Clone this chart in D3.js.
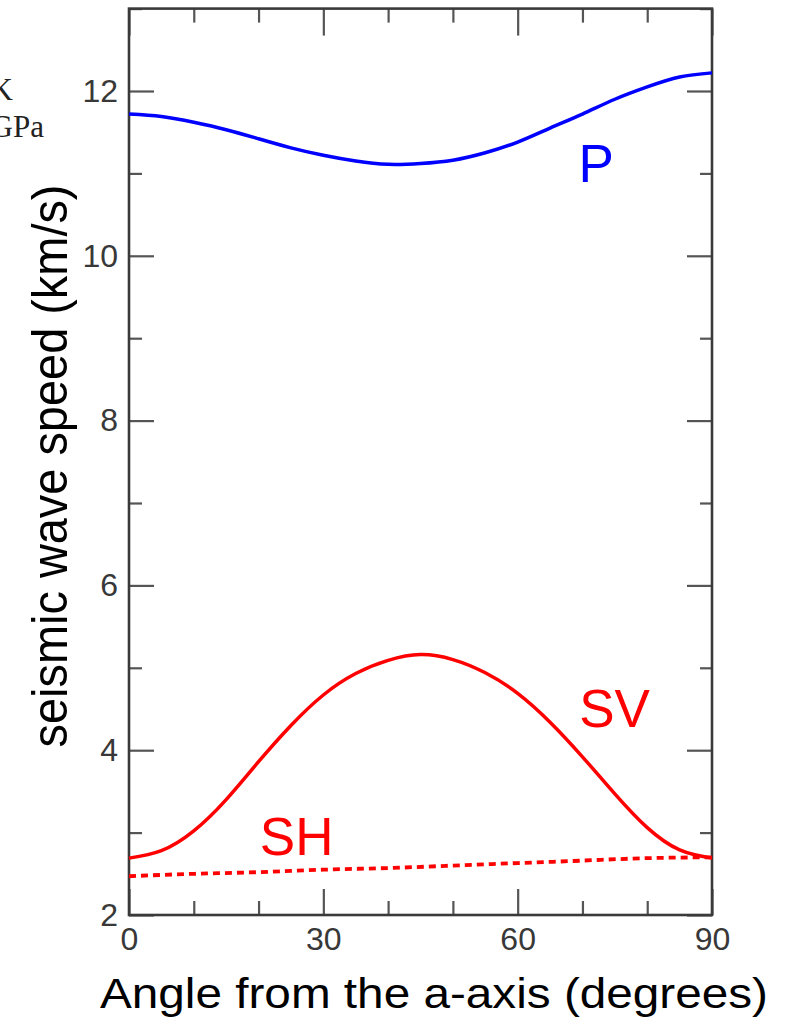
<!DOCTYPE html>
<html>
<head>
<meta charset="utf-8">
<script src="https://cdn.jsdelivr.net/npm/d3@7"></script>
<style>
  html, body { margin: 0; padding: 0; background: #fff; }
  svg { display: block; }
</style>
</head>
<body>
<script>
// ---- data ----
const angles   = [0, 5, 10, 15, 20, 25, 30, 35, 40, 45, 50, 55, 60, 65, 70, 75, 80, 85, 90];
const pSpeed   = [11.72, 11.69, 11.62, 11.53, 11.42, 11.31, 11.22, 11.15, 11.11, 11.12, 11.16, 11.25, 11.38, 11.55, 11.72, 11.90, 12.05, 12.17, 12.22];
const svSpeed  = [2.69, 2.78, 3.02, 3.40, 3.86, 4.30, 4.67, 4.93, 5.09, 5.16, 5.10, 4.94, 4.69, 4.34, 3.92, 3.47, 3.06, 2.79, 2.69];
const shAngles = [0, 10, 20, 30, 40, 50, 60, 70, 80, 90];
const shSpeed  = [2.47, 2.50, 2.52, 2.55, 2.57, 2.60, 2.63, 2.66, 2.69, 2.70];
const xMajorTicks = [0, 30, 60, 90];
const xMinorTicks = [10, 20, 40, 50, 70, 80];
const yMajorTicks = [2, 4, 6, 8, 10, 12];
const yMinorTicks = [3, 5, 7, 9, 11, 13];
const curveLabels = [
  { text: "P",  x: 69.4, y: 10.89, color: "#0000ff" },
  { text: "SV", x: 69.5, y: 4.28,  color: "#ff0000" },
  { text: "SH", x: 20.2, y: 2.73,  color: "#ff0000" }
];

// ---- layout ----
const W = 787, H = 1021;
const svg = d3.select("body").append("svg").attr("width", W).attr("height", H);

const x = d3.scaleLinear().domain([0, 90]).range([129, 712]);
const y = d3.scaleLinear().domain([2, 13]).range([915, 8.6]);

const frameColor = "#3a3a3a";
const tickColor = "#555";

// side notes (cropped at left edge)
svg.append("text").attr("x", 13).attr("y", 100).attr("text-anchor", "end")
  .attr("font-family", "Liberation Serif").attr("font-size", 31).attr("fill", "#222").text("K");
svg.append("text").attr("x", 44).attr("y", 137).attr("text-anchor", "end")
  .attr("font-family", "Liberation Serif").attr("font-size", 31).attr("fill", "#222").text("GPa");

// ---- axes ----
function styleAxis(g, withText) {
  g.select(".domain").remove();
  g.selectAll(".tick line").attr("stroke", tickColor).attr("stroke-width", 2.2);
  if (withText) {
    g.selectAll(".tick text").attr("fill", "#383838")
      .attr("font-family", "Liberation Sans, Arial, sans-serif").attr("font-size", 32);
  } else {
    g.selectAll(".tick text").remove();
  }
}

// bottom
svg.append("g").attr("transform", `translate(0,${y(2)})`)
  .call(d3.axisBottom(x).tickValues(xMajorTicks).tickSizeInner(-26).tickSizeOuter(0).tickPadding(12).tickFormat(d3.format("d")))
  .call(g => styleAxis(g, true));
svg.append("g").attr("transform", `translate(0,${y(2)})`)
  .call(d3.axisBottom(x).tickValues(xMinorTicks).tickSizeInner(-14).tickSizeOuter(0))
  .call(g => styleAxis(g, false));
// top
svg.append("g").attr("transform", `translate(0,${y(13)})`)
  .call(d3.axisTop(x).tickValues(xMajorTicks).tickSizeInner(-27).tickSizeOuter(0))
  .call(g => styleAxis(g, false));
svg.append("g").attr("transform", `translate(0,${y(13)})`)
  .call(d3.axisTop(x).tickValues(xMinorTicks).tickSizeInner(-14).tickSizeOuter(0))
  .call(g => styleAxis(g, false));
// left
svg.append("g").attr("transform", `translate(${x(0)},0)`)
  .call(d3.axisLeft(y).tickValues(yMajorTicks).tickSizeInner(-25).tickSizeOuter(0).tickPadding(11).tickFormat(d3.format("d")))
  .call(g => styleAxis(g, true));
svg.append("g").attr("transform", `translate(${x(0)},0)`)
  .call(d3.axisLeft(y).tickValues(yMinorTicks).tickSizeInner(-13).tickSizeOuter(0))
  .call(g => styleAxis(g, false));
// right
svg.append("g").attr("transform", `translate(${x(90)},0)`)
  .call(d3.axisRight(y).tickValues(yMajorTicks).tickSizeInner(-25).tickSizeOuter(0))
  .call(g => styleAxis(g, false));
svg.append("g").attr("transform", `translate(${x(90)},0)`)
  .call(d3.axisRight(y).tickValues(yMinorTicks).tickSizeInner(-12).tickSizeOuter(0))
  .call(g => styleAxis(g, false));

// frame
svg.append("rect")
  .attr("x", x(0)).attr("y", y(13))
  .attr("width", x(90) - x(0)).attr("height", y(2) - y(13))
  .attr("fill", "none").attr("stroke", frameColor).attr("stroke-width", 2.6);

// ---- curves ----
const line = d3.line().x(d => x(d[0])).y(d => y(d[1])).curve(d3.curveNatural);

svg.append("path").datum(angles.map((a, i) => [a, pSpeed[i]]))
  .attr("d", line).attr("fill", "none").attr("stroke", "#0000ff").attr("stroke-width", 3.5);
svg.append("path").datum(angles.map((a, i) => [a, svSpeed[i]]))
  .attr("d", line).attr("fill", "none").attr("stroke", "#ff0000").attr("stroke-width", 3.5);
svg.append("path").datum(shAngles.map((a, i) => [a, shSpeed[i]]))
  .attr("d", line).attr("fill", "none").attr("stroke", "#ff0000").attr("stroke-width", 3.8)
  .attr("stroke-dasharray", "7,5");

// curve labels
svg.selectAll("text.clabel").data(curveLabels).enter().append("text")
  .attr("class", "clabel")
  .attr("x", d => x(d.x)).attr("y", d => y(d.y))
  .attr("font-family", "Liberation Sans, Arial, sans-serif").attr("font-size", 53)
  .attr("fill", d => d.color).text(d => d.text);

// axis titles
svg.append("text")
  .attr("transform", "translate(67,466) rotate(-90)")
  .attr("text-anchor", "middle")
  .attr("font-family", "Liberation Sans, Arial, sans-serif").attr("font-size", 50)
  .attr("textLength", 563).attr("lengthAdjust", "spacingAndGlyphs")
  .attr("fill", "#000").text("seismic wave speed (km/s)");

svg.append("text")
  .attr("x", 434).attr("y", 1008)
  .attr("text-anchor", "middle")
  .attr("font-family", "Liberation Sans, Arial, sans-serif").attr("font-size", 43)
  .attr("textLength", 668).attr("lengthAdjust", "spacingAndGlyphs")
  .attr("fill", "#000").text("Angle from the a-axis (degrees)");
</script>
</body>
</html>
